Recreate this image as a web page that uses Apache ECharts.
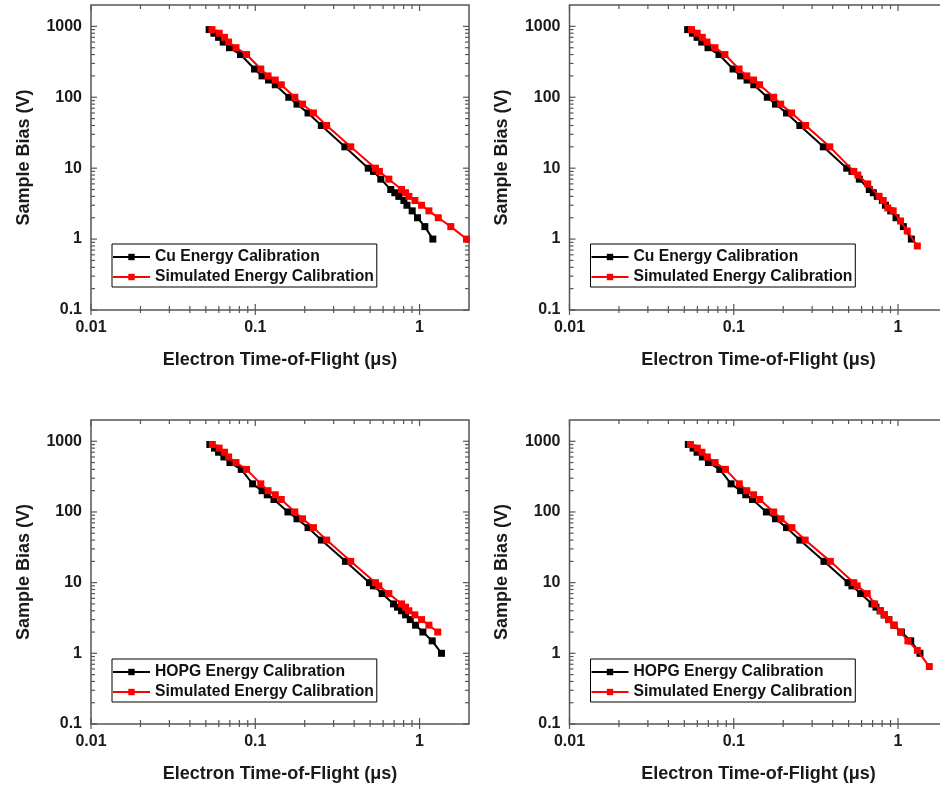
<!DOCTYPE html>
<html>
<head>
<meta charset="utf-8">
<script src="https://cdn.jsdelivr.net/npm/echarts@6/dist/echarts.min.js"></script>
<style>
  html, body { margin: 0; padding: 0; background: #fff; }
  #chart { width: 940px; height: 788px; }
</style>
</head>
<body>
<div id="chart"></div>
<script>
// axis labels
const xTickLabels = [0.01, 0.1, 1];
const yTickLabels = [0.1, 1, 10, 100, 1000];

// Cu measured calibration (panels 1 and 2)
const cuBias = [900, 800, 700, 600, 500, 400, 250, 200, 175, 150, 100, 80, 60, 40, 20, 10, 9, 7, 5, 4.5, 4, 3.5, 3, 2.5, 2, 1.5, 1];
const cuTof = [0.0524, 0.056, 0.0598, 0.0638, 0.0697, 0.0813, 0.099, 0.110, 0.1205, 0.1324, 0.160, 0.1795, 0.2095, 0.2525, 0.351, 0.487, 0.524, 0.581, 0.668, 0.707, 0.748, 0.803, 0.838, 0.902, 0.972, 1.077, 1.205];

// simulated calibration, panel 1
const sim1Bias = [900, 800, 700, 600, 500, 400, 250, 200, 175, 150, 100, 80, 60, 40, 20, 10, 9, 7, 5, 4.5, 4, 3.5, 3, 2.5, 2, 1.5, 1];
const sim1Tof = [0.0545, 0.0603, 0.065, 0.0688, 0.0763, 0.0885, 0.108, 0.1196, 0.1324, 0.144, 0.174, 0.194, 0.226, 0.272, 0.381, 0.539, 0.570, 0.650, 0.777, 0.822, 0.861, 0.937, 1.029, 1.14, 1.30, 1.55, 1.93];

// simulated calibration, panel 2
const sim2Bias = [900, 800, 700, 600, 500, 400, 250, 200, 175, 150, 100, 80, 60, 40, 20, 9, 8, 6, 4, 3.5, 2.75, 2.5, 1.8, 1.3, 0.8];
const sim2Tof = [0.0553, 0.0599, 0.0643, 0.0687, 0.0768, 0.0883, 0.1076, 0.120, 0.132, 0.1437, 0.175, 0.193, 0.225, 0.274, 0.384, 0.538, 0.569, 0.654, 0.767, 0.812, 0.866, 0.934, 1.035, 1.137, 1.31];

// HOPG measured calibration (panels 3 and 4)
const hopgBias = [900, 800, 700, 600, 500, 400, 250, 200, 175, 150, 100, 80, 60, 40, 20, 10, 9, 7, 5, 4.5, 4, 3.5, 3, 2.5, 2, 1.5, 1];
const hopgTof = [0.0529, 0.0565, 0.0598, 0.0644, 0.0701, 0.0822, 0.0963, 0.110, 0.1183, 0.130, 0.158, 0.1795, 0.2095, 0.2525, 0.354, 0.496, 0.524, 0.592, 0.694, 0.734, 0.777, 0.822, 0.878, 0.946, 1.048, 1.194, 1.36];

// simulated calibration, panel 3
const sim3Bias = [900, 800, 700, 600, 500, 400, 250, 200, 175, 150, 100, 80, 60, 40, 20, 10, 9, 7, 5, 4.5, 4, 3.5, 3, 2.5, 2];
const sim3Tof = [0.0548, 0.0603, 0.065, 0.0688, 0.0763, 0.0885, 0.108, 0.1196, 0.1324, 0.144, 0.174, 0.194, 0.226, 0.272, 0.381, 0.539, 0.565, 0.650, 0.777, 0.822, 0.861, 0.937, 1.029, 1.14, 1.29];

// simulated calibration, panel 4
const sim4Bias = [900, 800, 700, 600, 500, 400, 250, 200, 175, 150, 100, 80, 60, 40, 20, 10, 9, 7, 5, 4, 3.5, 3, 2.5, 2, 1.5, 1.1, 0.65];
const sim4Tof = [0.0545, 0.060, 0.064, 0.069, 0.077, 0.089, 0.108, 0.120, 0.132, 0.144, 0.175, 0.194, 0.226, 0.272, 0.387, 0.538, 0.564, 0.649, 0.720, 0.782, 0.827, 0.879, 0.942, 1.035, 1.148, 1.31, 1.55];

const SIM_NAME = 'Simulated Energy Calibration';
const X_MIN = 0.01, X_MAX = 2, Y_MIN = 0.1, Y_MAX = 2000;
const FONT = '"Liberation Sans", Arial, sans-serif';
const FRAME = '#555';

const panels = [
  { left: 91, top: 5, height: 305, expName: 'Cu Energy Calibration', expX: cuTof, expY: cuBias, simX: sim1Tof, simY: sim1Bias },
  { left: 569.5, top: 5, height: 305, expName: 'Cu Energy Calibration', expX: cuTof, expY: cuBias, simX: sim2Tof, simY: sim2Bias },
  { left: 91, top: 420, height: 304, expName: 'HOPG Energy Calibration', expX: hopgTof, expY: hopgBias, simX: sim3Tof, simY: sim3Bias },
  { left: 569.5, top: 420, height: 304, expName: 'HOPG Energy Calibration', expX: hopgTof, expY: hopgBias, simX: sim4Tof, simY: sim4Bias }
];

function pairs(xs, ys) {
  return xs.map((x, i) => [x, ys[i]]);
}

function matchLabel(list, v) {
  const hit = list.find(t => Math.abs(t - v) / t < 1e-6);
  return hit === undefined ? '' : String(hit);
}

// log ticks on all four sides: [x, y, side, major]
function tickData() {
  const out = [];
  for (let d = -2; d <= 0; d++) {
    for (let m = 1; m <= 9; m++) {
      const v = m * Math.pow(10, d);
      if (v >= X_MAX - 1e-9) break;
      out.push([v, Y_MIN, 0, m === 1 ? 1 : 0]);
      out.push([v, Y_MAX, 1, m === 1 ? 1 : 0]);
    }
  }
  for (let d = -1; d <= 3; d++) {
    for (let m = 1; m <= 9; m++) {
      const v = m * Math.pow(10, d);
      if (v >= Y_MAX - 1e-9) break;
      out.push([X_MIN, v, 2, m === 1 ? 1 : 0]);
      out.push([X_MAX, v, 3, m === 1 ? 1 : 0]);
    }
  }
  return out;
}

function renderTick(params, api) {
  const p = api.coord([api.value(0), api.value(1)]);
  const side = api.value(2);
  const len = api.value(3) === 1 ? 6 : 4;
  let x1 = p[0], y1 = p[1], x2 = p[0], y2 = p[1];
  if (side === 0) { y1 = p[1] + len - 1; y2 = p[1] - len; }
  else if (side === 1) { y2 = p[1] + len; }
  else if (side === 2) { x2 = p[0] + len; }
  else { x2 = p[0] - len; }
  return {
    type: 'line',
    shape: { x1, y1, x2, y2 },
    style: { stroke: FRAME, lineWidth: 1.2 }
  };
}

const ticks = tickData();
const labelStyle = { color: '#1a1a1a', fontFamily: FONT, fontWeight: 'bold', fontSize: 16 };
const nameStyle = { color: '#1a1a1a', fontFamily: FONT, fontWeight: 'bold', fontSize: 18 };

const option = {
  animation: false,
  backgroundColor: '#fff',
  grid: panels.map(p => ({
    left: p.left, top: p.top, width: 378, height: p.height,
    outerBoundsMode: 'none', containLabel: false,
    show: true, borderColor: FRAME, borderWidth: 1.5, backgroundColor: 'transparent'
  })),
  xAxis: panels.map((p, i) => ({
    type: 'log', logBase: 10, gridIndex: i, min: X_MIN, max: X_MAX,
    axisLine: { show: false }, axisTick: { show: false }, splitLine: { show: false },
    axisLabel: { ...labelStyle, margin: 10, formatter: v => matchLabel(xTickLabels, v) },
    name: 'Electron Time-of-Flight (μs)', nameLocation: 'middle', nameGap: 41,
    nameTextStyle: nameStyle
  })),
  yAxis: panels.map((p, i) => ({
    type: 'log', logBase: 10, gridIndex: i, min: Y_MIN, max: Y_MAX,
    axisLine: { show: false }, axisTick: { show: false }, splitLine: { show: false },
    axisLabel: { ...labelStyle, margin: 9, formatter: v => matchLabel(yTickLabels, v) },
    name: 'Sample Bias (V)', nameLocation: 'middle', nameGap: 58,
    nameTextStyle: nameStyle
  })),
  legend: panels.map(p => ({
    left: p.left + 21, top: p.top + 239, orient: 'vertical',
    data: [p.expName, SIM_NAME],
    selectedMode: false,
    borderColor: '#000', borderWidth: 1, padding: [5, 3, 2, 0],
    itemWidth: 37, itemHeight: 8, itemGap: 4,
    textStyle: { color: '#111', fontFamily: FONT, fontWeight: 'bold', fontSize: 15.7 }
  })),
  series: []
};

panels.forEach((p, i) => {
  option.series.push({
    type: 'custom', xAxisIndex: i, yAxisIndex: i, silent: true, clip: false,
    encode: { x: 0, y: 1 }, data: ticks, renderItem: renderTick, z: 1
  });
  option.series.push({
    name: p.expName, type: 'line', xAxisIndex: i, yAxisIndex: i,
    data: pairs(p.expX, p.expY), symbol: 'rect', symbolSize: 7,
    lineStyle: { color: '#000', width: 2 }, itemStyle: { color: '#000' }, z: 3
  });
  option.series.push({
    name: SIM_NAME, type: 'line', xAxisIndex: i, yAxisIndex: i,
    data: pairs(p.simX, p.simY), symbol: 'rect', symbolSize: 7,
    lineStyle: { color: '#ff0000', width: 2 }, itemStyle: { color: '#ff0000' }, z: 4
  });
});

const chart = echarts.init(document.getElementById('chart'), null, { renderer: 'canvas' });
chart.setOption(option);
</script>
</body>
</html>
